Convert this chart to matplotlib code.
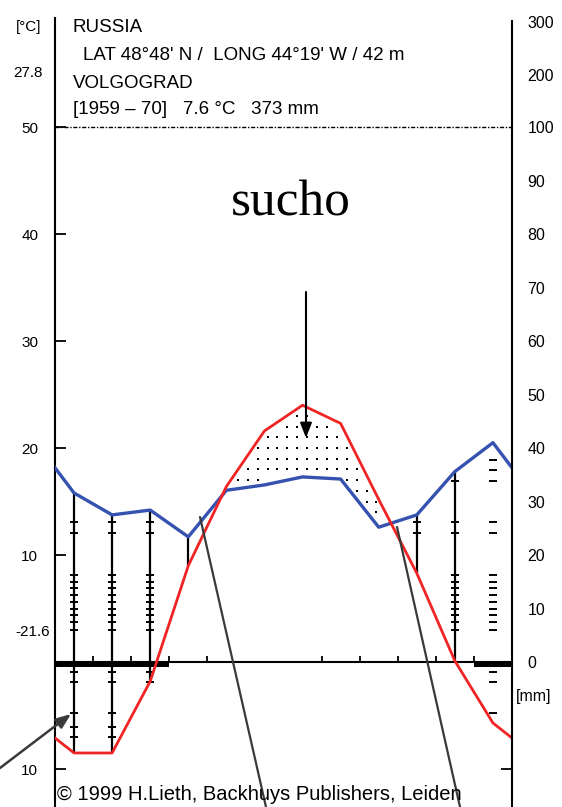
import numpy as np
import matplotlib
matplotlib.use("Agg")
import matplotlib.pyplot as plt

# ---------------- data ----------------
months = ['Jan', 'Feb', 'Mar', 'Apr', 'May', 'Jun',
          'Jul', 'Aug', 'Sep', 'Oct', 'Nov', 'Dec']
temp_c = [-8.5, -8.5, -1.8, 9.0, 16.4, 21.6, 24.0, 22.3, 15.2, 8.3, 0.1, -5.7]
precip_mm = [31.6, 27.5, 28.4, 23.4, 32.1, 33.1, 34.6, 34.2, 25.2, 27.5, 35.6, 41.0]
frost_flag = [1, 1, 1, 0, 0, 0, 0, 0, 0, 0, 0, 1]
humid_line_months = ['Jan', 'Feb', 'Mar', 'Apr', 'Oct', 'Nov']
rung_months = ['Jan', 'Feb', 'Mar', 'Apr', 'Oct', 'Nov', 'Dec']
rung_levels = [18.9, 17.9, 16.9, 13.1, 12.1, 8.1, 7.5, 6.9, 6.3, 5.6, 5.0,
               4.4, 3.7, 3.0, -0.9, -1.9, -4.8, -6.1, -7.0]
month_tick_bounds = [1, 2, 3, 4, 7, 8, 9, 10, 11]
temp_ticks = [50, 40, 30, 20, 10, -10]
temp_tick_labels = ['50', '40', '30', '20', '10', '10']
precip_label_vals = [300, 200, 100, 90, 80, 70, 60, 50, 40, 30, 20, 10, 0]
precip_mark_vals = [90, 80, 70, 60, 50, 40, 30, 20, 10]
header = ['RUSSIA',
          "LAT 48°48' N /  LONG 44°19' W / 42 m",
          'VOLGOGRAD',
          '[1959 – 70]   7.6 °C   373 mm']
t_max_label = '27.8'
t_min_label = '-21.6'
dry_label = 'sucho'
credit = '© 1999 H.Lieth, Backhuys Publishers, Leiden'

# ---------------- helpers ----------------
W, H = 562, 807


def p2y(p):
    p = np.asarray(p, dtype=float)
    return np.where(p <= 100, p / 2.0, 50 + (p - 100) * 0.049)


def fp(x, y):
    return (x / W, 1 - y / H)


RED = '#f02424'
BLUE = '#3552b0'
GREY = '#3a3a3a'
SANS = 'Liberation Sans'

fig = plt.figure(figsize=(W / 100, H / 100), dpi=100)
ax = fig.add_axes([55 / W, 0, 457 / W, 1 - 18 / H])
ymin, ymax = -13.55, 60.19
ax.set_xlim(0, 12)
ax.set_ylim(ymin, ymax)

mid = np.arange(12) + 0.5
t = np.array(temp_c)
p = np.array(precip_mm)
edge_t = (t[0] + t[-1]) / 2
edge_p = (p[0] + p[-1]) / 2
x_ext = np.concatenate([[0], mid, [12]])
t_ext = np.concatenate([[edge_t], t, [edge_t]])
p_ext = np.concatenate([[edge_p], p, [edge_p]])

# dry period dots
xs = np.arange(0.12, 12, 0.26)
rows = np.arange(-5, 30)
XX, YY = np.meshgrid(xs, rows)
rt = np.interp(XX, x_ext, t_ext)
bp = np.interp(XX, x_ext, p_ext) / 2
mask = (YY > bp + 0.45) & (YY < rt - 0.6)
ax.plot(XX[mask], YY[mask], 's', color='black', ms=1.6, mew=0, zorder=2)

# humid vertical lines
for m in humid_line_months:
    i = months.index(m)
    ax.vlines(mid[i], t[i], p[i] / 2, color='black', lw=1.6, zorder=3)
for m in rung_months:
    i = months.index(m)
    lv = [L for L in rung_levels if t[i] - 0.2 < L < p[i] / 2 - 0.6]
    ax.plot([mid[i]] * len(lv), lv, '_', color='black', ms=6, mew=1.4,
            zorder=3)

# zero line, frost bar, month ticks
ax.axhline(0, color='black', lw=1.5, zorder=4)
for i, f in enumerate(frost_flag):
    if f:
        ax.bar(mid[i], 0.6, bottom=-0.5, width=1.0, color='black',
               zorder=4, linewidth=0)
ax.vlines(month_tick_bounds, 0, 0.55, color='black', lw=1.3, zorder=4)

# 50 °C / 100 mm dotted line
ax.axhline(50, color='black', lw=1.0, ls=(0, (3, 1.2, 1, 1.2)), zorder=4)

# curves
ax.plot(x_ext, p_ext / 2, color=BLUE, lw=2.4, zorder=5)
ax.plot(x_ext, t_ext, color=RED, lw=2.0, zorder=6)

# axes styling
for s in ['top', 'bottom']:
    ax.spines[s].set_visible(False)
ax.spines['left'].set_linewidth(1.5)
ax.spines['right'].set_visible(False)
ax.set_xticks([])
ax.set_yticks(temp_ticks, temp_tick_labels)
ax.tick_params(axis='y', direction='in', length=8, width=1.3, pad=12,
               labelsize=11)
for lab in ax.get_yticklabels():
    lab.set_fontfamily(SANS)

ax2 = ax.twinx()
ax2.set_ylim(ymin, ymax)
for s in ['top', 'bottom', 'left']:
    ax2.spines[s].set_visible(False)
ax2.spines['right'].set_linewidth(1.5)
ax2.spines['right'].set_bounds(ymin, p2y(300) + 0.1)
ax2.set_yticks(p2y(precip_label_vals), [str(v) for v in precip_label_vals])
ax2.tick_params(axis='y', which='major', length=0, pad=11, labelsize=11.5)
ax2.set_yticks(list(p2y(precip_mark_vals)) + [-10], minor=True)
ax2.tick_params(axis='y', which='minor', direction='in', length=8, width=1.3)
for lab in ax2.get_yticklabels():
    lab.set_fontfamily(SANS)

# left-side extra labels
fig.text(*fp(41, 27), '[°C]', ha='right', va='center', fontsize=11,
         family=SANS)
fig.text(*fp(43, 73), t_max_label, ha='right', va='center', fontsize=11,
         family=SANS)
fig.text(*fp(50, 632), t_min_label, ha='right', va='center', fontsize=11,
         family=SANS)
fig.text(*fp(516, 697), '[mm]', ha='left', va='center', fontsize=11.5,
         family=SANS)

# header
fig.text(*fp(73, 28), header[0], ha='left', va='center', fontsize=13.5,
         family=SANS)
fig.text(*fp(83, 56), header[1], ha='left', va='center', fontsize=13.5,
         family=SANS)
fig.text(*fp(73, 84), header[2], ha='left', va='center', fontsize=13.5,
         family=SANS)
fig.text(*fp(73, 109), header[3], ha='left', va='center', fontsize=13.5,
         family=SANS)

# sucho + arrow
fig.text(*fp(291, 216), dry_label, ha='center', va='baseline', fontsize=37,
         family='Liberation Serif')
ax.annotate('', xy=fp(306, 438), xycoords='figure fraction',
            xytext=fp(306, 292), textcoords='figure fraction',
            arrowprops=dict(arrowstyle='-|>,head_length=0.9,head_width=0.35',
                            color='black', lw=1.5, shrinkA=0, shrinkB=0),
            zorder=8)
# frost arrow from left edge
ax.annotate('', xy=fp(71, 714), xycoords='figure fraction',
            xytext=fp(0, 768), textcoords='figure fraction',
            arrowprops=dict(arrowstyle='-|>,head_length=0.9,head_width=0.35',
                            color=GREY, lw=1.8, shrinkA=0, shrinkB=0),
            annotation_clip=False, zorder=8)
# pointer lines from crossings to the bottom
for a, b in [((200, 517), (266, 807)), ((397, 527), (460, 807))]:
    ax.annotate('', xy=fp(*b), xycoords='figure fraction',
                xytext=fp(*a), textcoords='figure fraction',
                arrowprops=dict(arrowstyle='-', color=GREY, lw=1.6,
                                shrinkA=0, shrinkB=0),
                annotation_clip=False, zorder=7)

# credit
fig.text(*fp(57, 794), credit, ha='left', va='center', fontsize=14.5,
         family=SANS, zorder=9)

fig.savefig('out.png', dpi=100)
